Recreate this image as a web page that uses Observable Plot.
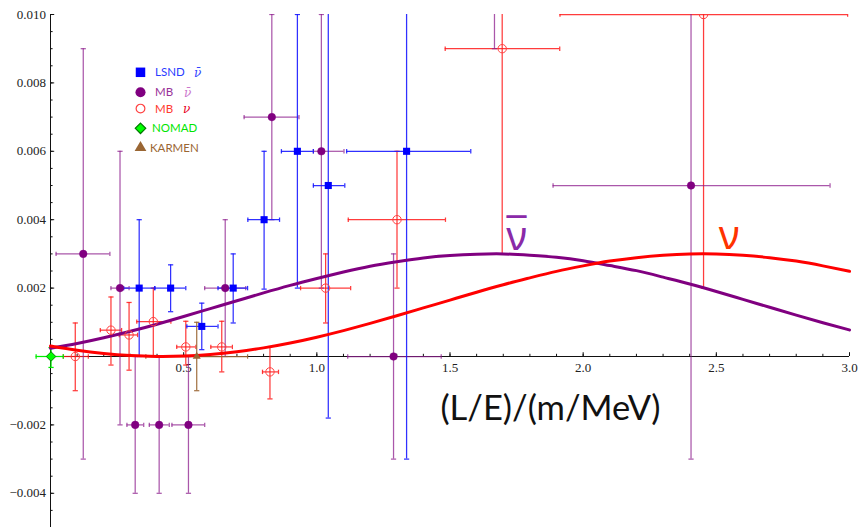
<!DOCTYPE html>
<html><head><meta charset="utf-8">
<script src="https://cdn.jsdelivr.net/npm/d3@7"></script>
<script src="https://cdn.jsdelivr.net/npm/@observablehq/plot@0.6"></script>
<style>
html,body{margin:0;padding:0;background:#fff;}
#wrap{position:relative;width:859px;height:527px;overflow:hidden;background:#fff;}
#legend{position:absolute;left:0;top:0;}
</style></head><body>
<div id="wrap"><div id="chart"></div><svg id="legend" width="260" height="170"></svg></div>
<script>
// ---------- data ----------
// LSND anti-neutrino
const lsndX   = [0.333, 0.451, 0.568, 0.686, 0.802, 0.927, 1.043, 1.337];
const lsndY   = [0.0020, 0.0020, 0.00088, 0.0020, 0.0040, 0.0060, 0.0050, 0.0060];
const lsndYLo = [0.0000, 0.00131, 0.0002, 0.00098, 0.00197, 0.0020, -0.0018, -0.0030];
const lsndYHi = [0.0040, 0.00268, 0.00156, 0.0030, 0.0060, 0.0100, 0.0118, 0.0150];
const lsndXLo = [0.275, 0.392, 0.512, 0.629, 0.741, 0.867, 0.987, 1.112];
const lsndXHi = [0.391, 0.508, 0.629, 0.740, 0.860, 0.987, 1.105, 1.578];
// MiniBooNE anti-neutrino
const mbbX   = [0.123, 0.261, 0.318, 0.408, 0.518, 0.656, 0.831, 1.017, 1.288, 1.667, 2.405];
const mbbY   = [0.0030, 0.0020, -0.0020, -0.0020, -0.0020, 0.0020, 0.0070, 0.0060, 0.0000, 0.0130, 0.0050];
const mbbYLo = [-0.0030, -0.0020, -0.0040, -0.0040, -0.0040, 0.0000, 0.0040, 0.0020, -0.0030, 0.0090, -0.0030];
const mbbYHi = [0.0090, 0.0060, 0.0000, 0.0000, 0.0000, 0.0040, 0.0100, 0.0100, 0.0030, 0.0170, 0.0130];
const mbbXLo = [0.021, 0.227, 0.287, 0.371, 0.456, 0.579, 0.727, 0.987, 1.116, 1.600, 1.887];
const mbbXHi = [0.223, 0.295, 0.350, 0.446, 0.579, 0.733, 0.933, 1.102, 1.467, 1.730, 2.927];
// MiniBooNE neutrino
const mbnX   = [0.093, 0.227, 0.295, 0.386, 0.508, 0.643, 0.824, 1.033, 1.301, 1.696, 2.452];
const mbnY   = [0.0000, 0.00077, 0.00063, 0.00102, 0.00028, 0.00028, -0.00045, 0.0020, 0.0040, 0.0090, 0.0100];
const mbnYLo = [-0.0010, -0.00025, -0.0004, 0.0000, -0.00025, -0.00045, -0.00124, 0.00098, 0.0020, 0.0030, 0.0020];
const mbnYHi = [0.00098, 0.00174, 0.00158, 0.0020, 0.00103, 0.00103, 0.00029, 0.0030, 0.0060, 0.0150, 0.0180];
const mbnXLo = [0.048, 0.187, 0.258, 0.324, 0.474, 0.602, 0.796, 0.939, 1.118, 1.482, 1.913];
const mbnXHi = [0.142, 0.267, 0.327, 0.452, 0.546, 0.683, 0.856, 1.127, 1.483, 1.912, 2.993];
// NOMAD
const nomadX = [0.002], nomadY = [0.0], nomadYLo = [-0.00032], nomadYHi = [0.00026], nomadXLo = [-0.054], nomadXHi = [0.048];
// KARMEN
const karmenX = [0.549], karmenY = [0.0], karmenYLo = [-0.0010], karmenYHi = [0.0010], karmenXLo = [0.358], karmenXHi = [0.740];

// oscillation curves
const curveX = [0,0.1,0.2,0.3,0.4,0.5,0.6,0.7,0.8,0.9,1.0,1.1,1.2,1.3,1.4,1.5,1.6,1.7,1.8,1.9,2.0,2.1,2.2,2.3,2.4,2.5,2.6,2.7,2.8,2.9,3.0];
const nuBarCurve = [0.000239,0.000380,0.000547,0.000737,0.000945,0.00117,0.00140,0.00163,0.00186,0.00208,0.00228,0.00247,0.00264,0.00277,0.00288,0.00295,0.00299,0.00300,0.00296,0.00290,0.00280,0.00266,0.00251,0.00232,0.00212,0.00190,0.00167,0.00144,0.00121,0.000986,0.000775];
const nuCurve = [0.000306,0.000180,0.000086,0.000026,0.000001,0.0000115,0.000058,0.000139,0.000252,0.000395,0.000565,0.000757,0.000967,0.00119,0.00142,0.00165,0.00188,0.00210,0.00230,0.00249,0.00265,0.00279,0.00289,0.00296,0.00300,0.00300,0.00296,0.00289,0.00279,0.00265,0.00249];

// ticks
const xTickLabels = [0.5, 1.0, 1.5, 2.0, 2.5, 3.0];
const yTickLabels = [-0.004, -0.002, 0.002, 0.004, 0.006, 0.008, 0.010];

// legend
const legendNames = ["LSND", "MB", "MB", "NOMAD", "KARMEN"];
const legendNu = ["ν̄", "ν̄", "ν", "", ""];

// ---------- layout ----------
const W = 859, H = 527, ML = 50, MR = 10, MT = 14, MB = 0;
const xDom = [0, 3], yDom = [-0.005, 0.010];
const kx = (xDom[1] - xDom[0]) / (W - ML - MR);
const ky = (yDom[1] - yDom[0]) / (H - MT - MB);
const SERIF = "'Liberation Serif', 'Times New Roman', serif";

const hCap = {draw(c, s) { const r = Math.sqrt(s / Math.PI); c.moveTo(-r, 0); c.lineTo(r, 0); }};
const vCap = {draw(c, s) { const r = Math.sqrt(s / Math.PI); c.moveTo(0, -r); c.lineTo(0, r); }};

function series(X, Y, XLo, XHi, YLo, YHi, bar, clip = true) {
  const idx = d3.range(X.length);
  const b = {stroke: bar.color, strokeOpacity: bar.opacity, strokeWidth: 1.25, clip};
  return [
    Plot.ruleX(idx, {x: i => X[i], y1: i => YLo[i], y2: i => YHi[i], ...b}),
    Plot.ruleY(idx, {y: i => Y[i], x1: i => XLo[i], x2: i => XHi[i], ...b}),
    Plot.dot(idx, {x: i => X[i], y: i => YLo[i], symbol: hCap, r: 2.6, fill: "none", ...b}),
    Plot.dot(idx, {x: i => X[i], y: i => YHi[i], symbol: hCap, r: 2.6, fill: "none", ...b}),
    Plot.dot(idx, {x: i => XLo[i], y: i => Y[i], symbol: vCap, r: 2.2, fill: "none", ...b}),
    Plot.dot(idx, {x: i => XHi[i], y: i => Y[i], symbol: vCap, r: 2.2, fill: "none", ...b}),
  ];
}
function markers(X, Y, opts, clip = true) {
  const idx = d3.range(X.length);
  return Plot.dot(idx, {x: i => X[i], y: i => Y[i], clip, ...opts});
}

const yMinor = d3.range(-10, 21).map(i => i * 0.0005);
const xMinor = d3.range(1, 31).map(i => i / 10);
const fy = d3.format(".3f"), fx = d3.format(".1f");

const nuBarData = curveX.map((x, i) => ({x, y: nuBarCurve[i]}));
const nuData = curveX.map((x, i) => ({x, y: nuCurve[i]}));

const chart = Plot.plot({
  width: W, height: H,
  marginLeft: ML, marginRight: MR, marginTop: MT, marginBottom: MB,
  x: {domain: xDom, axis: null},
  y: {domain: yDom, axis: null},
  style: {background: "white", fontFamily: SERIF, overflow: "visible"},
  marks: [
    // axes
    Plot.ruleX([0], {stroke: "#111", strokeWidth: 1}),
    Plot.ruleY([0], {stroke: "#111", strokeWidth: 1}),
    Plot.ruleY(yMinor, {x1: 0, x2: 2.6 * kx, stroke: "#111"}),
    Plot.ruleY(yTickLabels.concat([0]), {x1: 0, x2: 4.2 * kx, stroke: "#111"}),
    Plot.ruleX(xMinor, {y1: 0, y2: 2.2 * ky, stroke: "#111"}),
    Plot.ruleX(xTickLabels, {y1: 0, y2: 3.8 * ky, stroke: "#111"}),
    Plot.text(yTickLabels, {y: d => d, frameAnchor: "left", dx: -4.5, textAnchor: "end", text: d => fy(d), fontSize: 13, fontFamily: SERIF, fill: "#222"}),
    Plot.text(xTickLabels, {x: d => d, y: 0, dy: 11, text: d => fx(d), fontSize: 13, fontFamily: SERIF, fill: "#222"}),
    // error bars
    ...series(mbnX, mbnY, mbnXLo, mbnXHi, mbnYLo, mbnYHi, {color: "#ff1a1a", opacity: 0.85}),
    ...series(mbbX, mbbY, mbbXLo, mbbXHi, mbbYLo, mbbYHi, {color: "#8e1f8e", opacity: 0.75}),
    ...series(lsndX, lsndY, lsndXLo, lsndXHi, lsndYLo, lsndYHi, {color: "#1a1aff", opacity: 0.9}),
    ...series(karmenX, karmenY, karmenXLo, karmenXHi, karmenYLo, karmenYHi, {color: "#9a6633", opacity: 0.9}),
    ...series(nomadX, nomadY, nomadXLo, nomadXHi, nomadYLo, nomadYHi, {color: "#00ee00", opacity: 1}, false),
    // curves
    Plot.line(nuBarData, {x: "x", y: "y", stroke: "#800080", strokeWidth: 3, curve: "natural"}),
    Plot.line(nuData, {x: "x", y: "y", stroke: "#ff0000", strokeWidth: 3, curve: "natural"}),
    // markers
    markers(mbnX, mbnY, {symbol: "circle", r: 4.2, fill: "none", stroke: "#ff4040", strokeWidth: 1}),
    markers(mbbX, mbbY, {symbol: "circle", r: 3.8, fill: "#800080", stroke: "#800080", strokeWidth: 0.5}),
    markers(lsndX, lsndY, {symbol: "square", r: 4.0, fill: "#0000ff", stroke: "none"}),
    markers(karmenX, karmenY, {symbol: "triangle", r: 3.0, fill: "#9a6633", stroke: "none"}),
    markers(nomadX, nomadY, {symbol: "diamond2", r: 4.3, fill: "#00ff00", stroke: "#008800", strokeWidth: 1}, false),
    // annotations: ν̄ drawn as macron line over ν line (one text element)
    Plot.text(["¯\nν"], {x: 1.75, y: 0.00315, text: d => d, lineHeight: 0.03, fontSize: 40, fontFamily: "'Noto Sans', sans-serif", fill: "#8a2aa8"}),
    Plot.text(["ν"], {x: 2.548, y: 0.00352, text: d => d, fontSize: 40, fontFamily: "'Noto Sans', sans-serif", fill: "#ff3300"}),
    Plot.text(["(L/E)/(m/MeV)"], {x: 1.877, y: -0.00152, text: d => d, fontSize: 34.5, fontFamily: "Lato, 'Open Sans', sans-serif", fill: "#111"})
  ]
});
document.getElementById("chart").appendChild(chart);

// ---------- legend ----------
const lg = d3.select("#legend");
const rowY = [72.3, 92.3, 108.6, 128.3, 147.7];
const symX = 140.5;
const textX = [155, 155, 155, 152, 150];
const nuX = [194, 184, 183, 0, 0];
const textCol = ["#2a3cff", "#993399", "#ff3b30", "#00e600", "#9a6633"];
const nuCol = ["#3344ff", "#cc77cc", "#e8001c", "", ""];
const sym = d3.symbol();
const symDefs = [
  {type: d3.symbolSquare, size: 90, fill: "#0000ff", stroke: "none"},
  {type: d3.symbolCircle, size: 80, fill: "#800080", stroke: "none"},
  {type: d3.symbolCircle, size: 60, fill: "none", stroke: "#ff4040"},
  {type: d3.symbolDiamond2, size: 70, fill: "#00ff00", stroke: "#007700"},
  {type: d3.symbolTriangle, size: 60, fill: "#9a6633", stroke: "none"}
];
legendNames.forEach((name, i) => {
  const s = symDefs[i];
  lg.append("path").attr("d", sym.type(s.type).size(s.size)())
    .attr("transform", `translate(${symX},${rowY[i]})`)
    .attr("fill", s.fill).attr("stroke", s.stroke).attr("stroke-width", 1.2);
  lg.append("text").attr("x", textX[i]).attr("y", rowY[i]).attr("dy", "0.36em")
    .attr("font-family", "Lato, 'Open Sans', sans-serif").attr("font-size", 11.5)
    .attr("fill", textCol[i]).text(name);
  if (legendNu[i]) {
    lg.append("text").attr("x", nuX[i]).attr("y", rowY[i]).attr("dy", "0.36em")
      .attr("font-family", "'DejaVu Serif', serif").attr("font-style", "italic").attr("font-size", 12)
      .attr("fill", nuCol[i]).text(legendNu[i]);
  }
});
</script>
</body></html>
